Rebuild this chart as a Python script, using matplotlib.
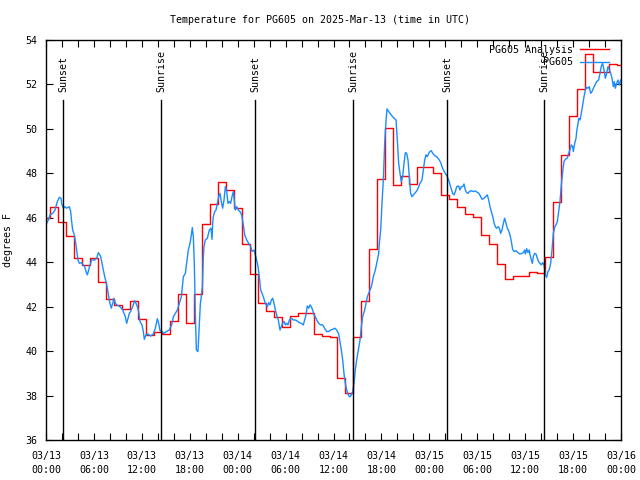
import matplotlib
matplotlib.use("Agg")
import matplotlib.pyplot as plt
import matplotlib.dates as mdates
import numpy as np
import pandas as pd

plt.rcParams['font.family'] = ['DejaVu Sans Mono']
plt.rcParams['font.size'] = 7.2

start = pd.Timestamp("2025-03-13 00:00")

# hourly analysis values, hour 0..72
ana_temp = [46.0, 46.47, 45.8, 45.17, 44.2, 43.86, 44.2, 43.1, 42.33, 42.06,
            41.88, 42.24, 41.43, 40.74, 40.86, 40.76, 41.34, 42.56, 41.25, 42.56,
            45.72, 46.62, 47.6, 47.24, 46.42, 44.8, 43.45, 42.15, 41.8, 41.52,
            41.07, 41.58, 41.73, 41.7, 40.77, 40.7, 40.63, 38.77, 38.1, 40.63,
            42.26, 44.6, 47.73, 50.03, 47.48, 47.9, 47.5, 48.3, 48.27, 48.0,
            47.02, 46.84, 46.5, 46.17, 46.05, 45.22, 44.82, 43.9, 43.26, 43.37,
            43.4, 43.55, 43.5, 44.23, 46.7, 48.83, 50.57, 51.81, 53.37, 52.58,
            52.55, 52.9, 52.88]
ana_hour = np.arange(len(ana_temp))

# observations: hours since start, degrees F
obs_hour = [0.08, 0.29, 0.5, 0.84, 1.13, 1.42, 1.67, 1.88, 2.0, 2.17, 2.38, 2.59, 2.92,
            3.09, 3.21, 3.34, 3.55, 3.72, 3.84, 4.01, 4.17, 4.43, 4.68, 4.84, 5.01,
            5.18, 5.34, 5.51, 5.72, 6.09, 6.35, 6.55, 6.68, 6.85, 7.01, 7.18, 7.35,
            7.51, 7.68, 7.85, 8.01, 8.18, 8.35, 8.52, 8.68, 8.93, 9.27, 9.6, 9.77,
            9.93, 10.1, 10.27, 10.44, 10.6, 10.85, 11.1, 11.27, 11.44, 11.6, 11.77,
            12.02, 12.19, 12.31, 12.52, 12.77, 13.11, 13.44, 13.69, 13.94, 14.11,
            14.28, 14.53, 14.78, 15.11, 15.44, 15.74, 15.95, 16.2, 16.45, 16.7,
            16.95, 17.2, 17.45, 17.61, 17.82, 18.03, 18.2, 18.32, 18.45, 18.57,
            18.7, 18.83, 19.03, 19.2, 19.33, 19.45, 19.58, 19.7, 19.78, 19.95,
            20.2, 20.45, 20.66, 20.79, 20.87, 20.95, 21.12, 21.29, 21.45, 21.62,
            21.79, 21.95, 22.12, 22.29, 22.46, 22.62, 22.79, 22.96, 23.12, 23.29,
            23.46, 23.58, 23.71, 23.88, 24.08, 24.29, 24.5, 24.71, 24.88, 25.13,
            25.38, 25.63, 25.8, 26.05, 26.21, 26.38, 26.55, 26.71, 26.88, 27.05,
            27.21, 27.46, 27.72, 27.88, 28.05, 28.22, 28.38, 28.55, 28.72, 28.88,
            29.09, 29.3, 29.47, 29.63, 29.84, 29.97, 30.14, 30.3, 30.47, 30.72,
            30.97, 31.22, 31.39, 31.72, 31.97, 32.22, 32.39, 32.56, 32.72, 32.89,
            33.06, 33.22, 33.39, 33.56, 33.72, 33.89, 34.14, 34.39, 34.64, 34.89,
            35.14, 35.39, 35.65, 35.9, 36.15, 36.4, 36.65, 36.81, 36.98, 37.15,
            37.31, 37.48, 37.65, 37.82, 37.98, 38.07, 38.23, 38.4, 38.57, 38.73,
            38.9, 39.11, 39.32, 39.49, 39.65, 39.9, 40.07, 40.24, 40.4, 40.57,
            40.74, 40.99, 41.24, 41.49, 41.66, 41.74, 41.91, 42.07, 42.24, 42.41,
            42.57, 42.7, 42.91, 43.08, 43.33, 43.58, 43.83, 43.99, 44.16, 44.33,
            44.49, 44.66, 44.83, 45.0, 45.16, 45.33, 45.5, 45.66, 45.83, 46.0,
            46.25, 46.5, 46.66, 46.83, 47.08, 47.25, 47.42, 47.58, 47.75, 47.92,
            48.08, 48.25, 48.42, 48.58, 48.75, 48.92, 49.09, 49.25, 49.42, 49.59,
            49.75, 50.0, 50.25, 50.42, 50.59, 50.76, 50.92, 51.09, 51.26, 51.42,
            51.67, 51.84, 52.01, 52.17, 52.34, 52.51, 52.68, 52.84, 53.01, 53.26,
            53.51, 53.76, 53.93, 54.09, 54.26, 54.43, 54.6, 54.85, 55.1, 55.26,
            55.43, 55.6, 55.76, 55.93, 56.1, 56.26, 56.43, 56.6, 56.77, 56.93,
            57.1, 57.27, 57.43, 57.6, 57.77, 57.93, 58.1, 58.27, 58.43, 58.6,
            58.85, 59.1, 59.35, 59.6, 59.77, 59.94, 60.02, 60.19, 60.35, 60.52,
            60.61, 60.77, 60.9, 61.02, 61.19, 61.36, 61.52, 61.69, 61.86, 62.02,
            62.19, 62.36, 62.53, 62.69, 62.86, 63.03, 63.19, 63.36, 63.53, 63.69,
            63.86, 64.03, 64.19, 64.36, 64.53, 64.7, 64.86, 65.03, 65.28, 65.45,
            65.61, 65.78, 65.95, 66.03, 66.2, 66.37, 66.45, 66.62, 66.7, 66.87,
            67.03, 67.2, 67.37, 67.53, 67.7, 67.87, 68.03, 68.2, 68.37, 68.54,
            68.79, 68.95, 69.2, 69.37, 69.54, 69.7, 69.87, 70.04, 70.21, 70.37,
            70.54, 70.71, 70.87, 71.04, 71.17, 71.29, 71.46, 71.62, 71.79, 71.96]
obs_temp = [45.75, 45.9, 46.13, 46.2, 46.35, 46.73, 46.92, 46.88, 46.58, 46.43, 46.5, 46.43, 46.5,
            46.28, 45.83, 45.45, 45.23, 44.85, 44.55, 44.1, 43.95, 43.98, 43.88, 43.8, 43.58,
            43.43, 43.65, 43.88, 44.1, 44.1, 44.18, 44.43, 44.37, 44.25, 43.95, 43.65, 43.35,
            43.13, 42.83, 42.45, 42.15, 41.93, 42.15, 42.38, 42.15, 42.06, 42.0, 41.85, 41.7,
            41.55, 41.25, 41.48, 41.7, 41.78, 42.0, 42.27, 42.15, 42.0, 41.78, 41.33,
            41.18, 40.88, 40.53, 40.73, 40.77, 40.68, 40.77, 41.03, 41.46, 41.25,
            40.91, 40.88, 40.8, 40.89, 40.95, 41.18, 41.55, 41.7, 41.85, 42.15,
            42.45, 43.35, 43.5, 43.95, 44.55, 44.85, 45.23, 45.56, 45.15, 43.95,
            41.7, 40.05, 39.98, 41.25, 42.15, 42.45, 42.9, 44.25, 44.7, 45.0,
            45.08, 45.45, 45.53, 45.03, 45.75, 46.05, 46.28, 46.35, 46.65, 46.95,
            47.1, 46.73, 46.43, 46.8, 47.4, 47.18, 46.65, 46.73, 46.65, 46.95,
            47.18, 46.8, 46.35, 46.5, 46.35, 46.28, 46.13, 45.68, 45.23, 45.0,
            44.85, 44.7, 44.48, 44.55, 44.33, 44.1, 43.8, 43.35, 42.75, 42.6,
            42.45, 42.15, 42.0, 42.18, 42.08, 42.3, 42.38, 42.15, 41.85, 41.63,
            41.4, 40.95, 41.1, 41.25, 41.33, 41.18, 41.25, 41.18, 41.4, 41.48,
            41.4, 41.4, 41.37, 41.28, 41.25, 41.18, 41.4, 41.63, 42.03, 41.93,
            42.08, 42.0, 41.85, 41.63, 41.55, 41.4, 41.25, 41.18, 41.18, 41.03,
            40.88, 40.88, 40.95, 40.98, 41.03, 40.95, 40.77, 40.43, 40.05, 39.6,
            39.0, 38.55, 38.25, 38.07, 37.95, 37.95, 38.03, 38.18, 38.55, 39.15,
            39.6, 40.05, 40.5, 41.1, 41.55, 41.85, 42.15, 42.45, 42.6, 42.75,
            42.9, 43.35, 43.65, 44.1, 44.4, 44.85, 45.45, 46.65, 47.7, 49.35,
            50.33, 50.9, 50.78, 50.7, 50.58, 50.48, 50.4, 49.5, 48.45, 48.0,
            47.63, 47.85, 48.45, 48.93, 48.9, 48.6, 47.85, 47.1, 46.95, 47.03,
            47.13, 47.25, 47.4, 47.55, 47.7, 48.15, 48.6, 48.83, 48.75, 48.9,
            48.98, 49.02, 48.9, 48.83, 48.78, 48.75, 48.68, 48.6, 48.48, 48.3,
            48.15, 48.0, 47.85, 47.7, 47.48, 47.28, 47.1, 47.03, 47.18, 47.4,
            47.43, 47.25, 47.4, 47.4, 47.52, 47.25, 47.13, 47.1, 47.18, 47.22,
            47.18, 47.21, 47.16, 47.13, 47.07, 46.95, 46.83, 46.88, 46.98, 47.03,
            46.8, 46.5, 46.28, 46.08, 45.78, 45.6, 45.53, 45.6, 45.53, 45.3,
            45.45, 45.75, 45.98, 45.75, 45.53, 45.41, 45.23, 44.93, 44.58, 44.48,
            44.52, 44.43, 44.37, 44.4, 44.43, 44.55, 44.37, 44.61, 44.43, 44.55,
            44.33, 44.1, 43.95, 44.25, 44.4, 44.37, 44.18, 44.03, 43.95, 43.88,
            43.98, 43.88, 43.43, 43.32, 43.58, 43.68, 43.95, 44.55, 45.3, 45.57,
            45.68, 45.83, 46.28, 46.73, 47.48, 48.08, 48.53, 48.63, 48.69, 48.9,
            49.05, 49.28, 49.2, 48.98, 49.35, 49.58, 49.88, 50.25, 50.48, 50.4,
            50.7, 51.08, 51.45, 51.75, 51.87, 51.83, 51.9, 51.6, 51.68, 51.83,
            52.02, 52.13, 52.2, 52.5, 52.83, 52.95, 52.65, 52.28, 52.5, 52.8,
            52.68, 52.5, 52.28, 51.9, 52.13, 51.83, 52.05, 52.2, 51.98, 52.2]

# sunrise / sunset, hours since start
sun_hour = [2.17, 14.45, 26.21, 38.45, 50.25, 62.4]
sun_label = ["Sunset", "Sunrise", "Sunset", "Sunrise", "Sunset", "Sunrise"]

ana_time = start + pd.to_timedelta(ana_hour, unit="h")
obs_time = start + pd.to_timedelta(obs_hour, unit="h")
sun_time = start + pd.to_timedelta(sun_hour, unit="h")

fig = plt.figure(figsize=(6.4, 4.8), dpi=100)
ax = fig.add_axes([46/640, 40/480, 575/640, 400/480])

ax.plot(ana_time, ana_temp, color="#ff0000", lw=1.0, drawstyle="steps-mid",
        label="PG605 Analysis")
ax.plot(obs_time, obs_temp, color="#1a8cff", lw=1.0, label="PG605")

for t, lab in zip(sun_time, sun_label):
    ax.plot([t, t], [36, 51.3], color="black", lw=1.0)
    ax.text(t, 51.65, lab, rotation=90, ha="center", va="bottom", fontsize=7.2)

ax.set_xlim(start, start + pd.Timedelta(hours=72))
ax.set_ylim(36, 54)
ax.set_yticks(np.arange(36, 55, 2))
ax.xaxis.set_major_locator(mdates.HourLocator(byhour=[0, 6, 12, 18]))
ax.xaxis.set_minor_locator(mdates.HourLocator(interval=2))
ax.xaxis.set_major_formatter(mdates.DateFormatter("%m/%d\n%H:%M"))
ax.tick_params(which="both", direction="in", top=True, right=True, length=5, width=0.8)
ax.tick_params(axis="x", pad=8)
ax.tick_params(axis="y", pad=6)
for s in ax.spines.values():
    s.set_linewidth(1.0)

ax.set_ylabel("degrees F", labelpad=9)
fig.text(0.5, 1 - 20/480, "Temperature for PG605 on 2025-Mar-13 (time in UTC)",
         ha="center", va="center", fontsize=7.2)

ax.legend(loc="upper right", bbox_to_anchor=(0.995, 1.01), frameon=False,
          markerfirst=False, handlelength=2.9, handletextpad=0.7, labelspacing=0.25,
          fontsize=7.2)

fig.canvas.draw()
for lbl in ax.get_xticklabels():
    lbl.set_linespacing(1.5)

fig.savefig("out.png", dpi=100)
